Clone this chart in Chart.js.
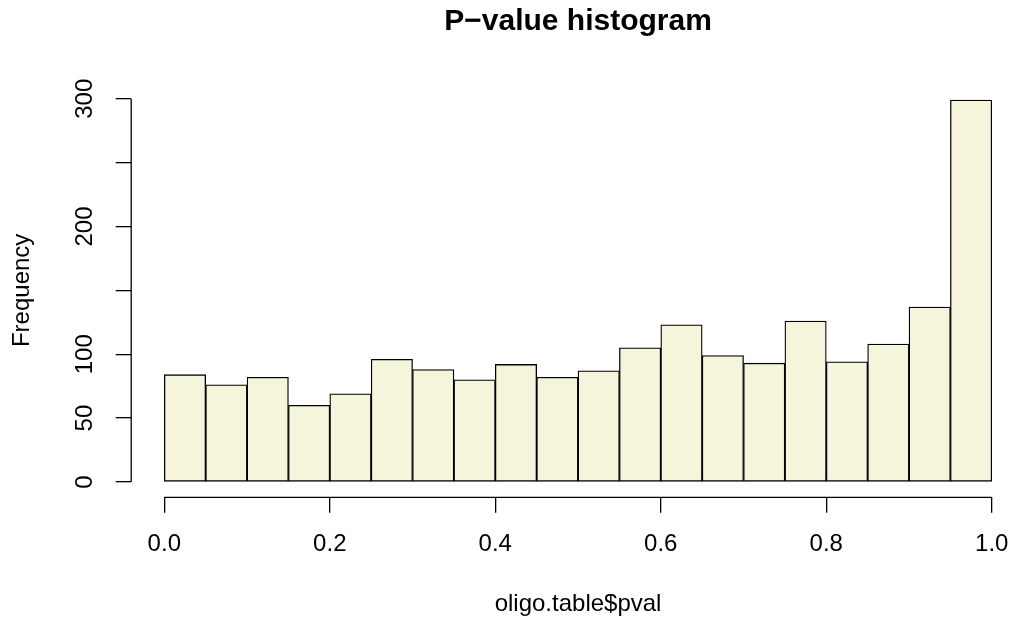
<!DOCTYPE html>
<html>
<head>
<meta charset="utf-8">
<style>
  html, body { margin: 0; background: #fff; overflow: hidden; }
  #wrap { width: 1013px; height: 624px; overflow: hidden; }
</style>
<script src="https://cdn.jsdelivr.net/npm/chart.js@4.4.0/dist/chart.umd.min.js"></script>
</head>
<body>
<!-- R 的绘图区右侧超出了原图，所以画布比窗口宽一点，再裁掉 -->
<div id="wrap"><canvas id="histChart" width="1026" height="624"></canvas></div>
<script>
// 直方图数据 - bin 中点与计数
const binMids = [0.025, 0.075, 0.125, 0.175, 0.225, 0.275, 0.325, 0.375, 0.425, 0.475,
                 0.525, 0.575, 0.625, 0.675, 0.725, 0.775, 0.825, 0.875, 0.925, 0.975];
const counts = [84, 76, 82, 60, 69, 96, 88, 80, 92, 82,
                87, 105, 123, 99, 93, 126, 94, 108, 137, 299];

// 坐标轴刻度
const xTicks = [0, 0.2, 0.4, 0.6, 0.8, 1.0];
const xTickLabels = ['0.0', '0.2', '0.4', '0.6', '0.8', '1.0'];
const yTicks = [0, 50, 100, 150, 200, 250, 300];
const yTickLabels = ['0', '50', '100', '', '200', '', '300'];

const FONT = '"Liberation Sans", Arial, Helvetica, sans-serif';

// R 风格的坐标轴线（只覆盖数据范围）和竖排 y 轴标签
const rAxes = {
    id: 'rAxes',
    afterDraw(chart) {
        const ctx = chart.ctx;
        const x = chart.scales.x;
        const y = chart.scales.y;
        ctx.save();
        ctx.strokeStyle = '#000';
        ctx.lineWidth = 1.3;
        ctx.beginPath();
        ctx.moveTo(x.getPixelForValue(xTicks[0]), x.top);
        ctx.lineTo(x.getPixelForValue(xTicks[xTicks.length - 1]), x.top);
        ctx.moveTo(y.right, y.getPixelForValue(yTicks[0]));
        ctx.lineTo(y.right, y.getPixelForValue(yTicks[yTicks.length - 1]));
        ctx.stroke();

        ctx.fillStyle = '#000';
        ctx.font = '24px ' + FONT;
        ctx.textAlign = 'center';
        ctx.textBaseline = 'middle';
        yTicks.forEach((v, i) => {
            if (!yTickLabels[i]) return;
            ctx.save();
            ctx.translate(y.right - 45.7, y.getPixelForValue(v));
            ctx.rotate(-Math.PI / 2);
            ctx.fillText(yTickLabels[i], 0, 0);
            ctx.restore();
        });
        ctx.restore();
    }
};

const ctx = document.getElementById('histChart').getContext('2d');
new Chart(ctx, {
    type: 'bar',
    data: {
        datasets: [{
            data: binMids.map((m, i) => ({ x: m, y: counts[i] })),
            backgroundColor: '#F5F5DC',
            borderColor: '#000',
            borderWidth: 1.3,
            borderSkipped: false,
            barPercentage: 1,
            categoryPercentage: 1
        }]
    },
    options: {
        responsive: false,
        animation: false,
        layout: { padding: 0 },
        plugins: {
            legend: { display: false },
            tooltip: { enabled: false },
            title: {
                display: true,
                text: 'P\u2212value histogram',
                fullSize: false,
                color: '#000',
                font: { family: FONT, size: 30, weight: 'bold' },
                padding: { top: 4, bottom: 43.4 }
            }
        },
        scales: {
            x: {
                type: 'linear',
                min: -0.04,
                max: 1.04,
                offset: false,
                afterBuildTicks: (s) => { s.ticks = xTicks.map(v => ({ value: v })); },
                afterFit: (s) => { s.height = 126.7; },
                border: { display: false },
                grid: { offset: false, drawOnChartArea: false, drawTicks: true, tickLength: 15.5, color: '#000', lineWidth: 1.3 },
                ticks: {
                    color: '#000',
                    padding: 17.5,
                    maxRotation: 0,
                    autoSkip: false,
                    font: { family: FONT, size: 24 },
                    callback: (v) => xTickLabels[xTicks.indexOf(v)]
                },
                title: {
                    display: true,
                    text: 'oligo.table$pval',
                    color: '#000',
                    font: { family: FONT, size: 24 },
                    padding: { top: 0, bottom: 5.6 }
                }
            },
            y: {
                min: -12,
                max: 312,
                afterBuildTicks: (s) => { s.ticks = yTicks.map(v => ({ value: v })); },
                afterFit: (s) => { s.width = 131.2; },
                border: { display: false },
                grid: { drawOnChartArea: false, drawTicks: true, tickLength: 15.5, color: '#000', lineWidth: 1.3 },
                ticks: { display: false },
                title: {
                    display: true,
                    text: 'Frequency',
                    color: '#000',
                    font: { family: FONT, size: 24 },
                    padding: { top: 7.6, bottom: 0 }
                }
            }
        }
    },
    plugins: [rAxes]
});
</script>
</body>
</html>
